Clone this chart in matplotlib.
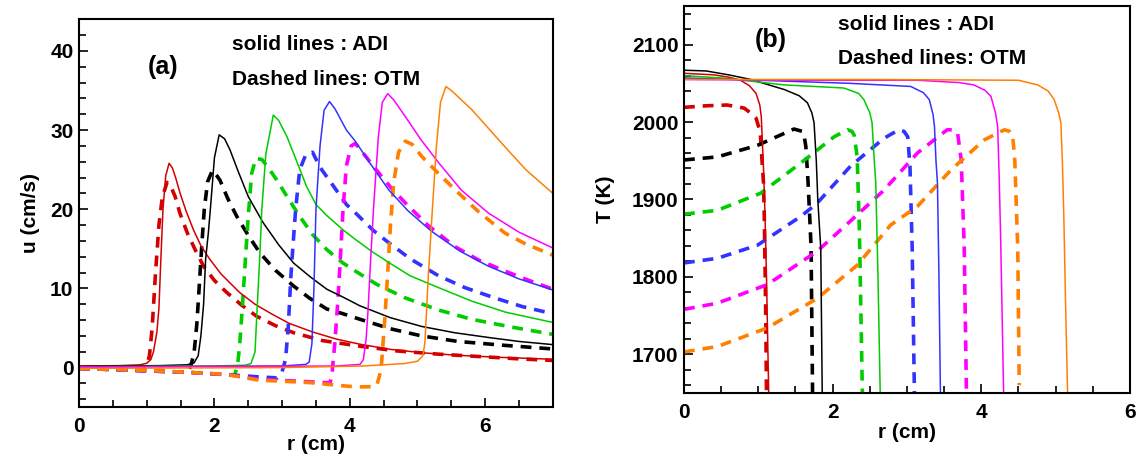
import matplotlib
matplotlib.use('Agg')
import matplotlib.pyplot as plt
from matplotlib.ticker import MultipleLocator

plt.rcParams['font.family'] = ['Liberation Sans', 'DejaVu Sans']
plt.rcParams['font.weight'] = 'bold'

# colours of the six time levels
colors = ['#d40000', '#000000', '#00cc00', '#3333ff', '#ff00ff', '#ff8000']

# ---- panel (a): velocity u (cm/s) vs r (cm) ----
# ADI (solid)
ua_red_r = [0, 0.6, 0.9, 1.0, 1.06, 1.1, 1.15, 1.18, 1.21, 1.24, 1.28, 1.33, 1.38, 1.43, 1.49, 1.58, 1.69, 1.8, 1.93, 2.1, 2.37,
            2.6, 2.84, 3.1, 3.45, 3.8, 4.15, 4.6, 5.1, 5.6, 6.2, 7.0]
ua_red = [0.2, 0.25, 0.35, 0.55, 1.0, 2.0, 4.5, 7.5, 14.0, 20.0, 24.2, 25.8, 25.2, 23.9, 22.1, 19.8, 17.4, 15.4, 13.7, 11.8, 9.5,
          8.0, 6.8, 5.6, 4.5, 3.6, 2.95, 2.3, 1.85, 1.55, 1.3, 1.05]
ua_blk_r = [0, 1.2, 1.6, 1.7, 1.76, 1.8, 1.84, 1.87, 1.91, 1.94, 2.0, 2.07, 2.15, 2.23, 2.35, 2.5, 2.72, 2.95, 3.17, 3.41,
            3.66, 3.9, 4.15, 4.6, 5.06, 5.55, 6.05, 6.5, 7.0]
ua_blk = [0.15, 0.25, 0.35, 0.6, 1.5, 4.0, 8.0, 13.7, 17.0, 20.0, 26.5, 29.4, 28.9, 27.5, 24.8, 21.6, 18.3, 15.5, 13.2, 11.5,
          9.9, 8.9, 7.8, 6.3, 5.2, 4.4, 3.8, 3.3, 2.9]
ua_grn_r = [0, 2.0, 2.45, 2.54, 2.6, 2.63, 2.67, 2.7, 2.76, 2.87, 2.95, 3.07, 3.2, 3.36, 3.5, 3.66, 3.9, 4.08, 4.32, 4.57,
            4.89, 5.31, 5.8, 6.3, 7.0]
ua_grn = [0.1, 0.2, 0.3, 0.5, 2.0, 7.3, 14.0, 20.0, 27.0, 31.9, 31.2, 29.2, 26.4, 22.9, 20.6, 19.2, 17.4, 16.2, 14.7, 13.3,
          11.6, 10.1, 8.4, 7.0, 5.7]
ua_blu_r = [0, 3.0, 3.35, 3.4, 3.44, 3.47, 3.5, 3.56, 3.62, 3.7, 3.78, 3.95, 4.08, 4.3, 4.57, 4.86, 5.21, 5.63, 6.05, 6.5, 7.0]
ua_blu = [0.1, 0.2, 0.4, 0.7, 3.0, 10.0, 20.0, 28.0, 32.5, 33.6, 32.7, 30.0, 28.6, 25.8, 22.5, 19.8, 17.2, 14.7, 12.8, 11.2, 9.8]
ua_mag_r = [0, 3.8, 4.15, 4.2, 4.24, 4.27, 4.31, 4.35, 4.42, 4.48, 4.56, 4.65, 4.82, 5.05, 5.31, 5.65, 6.05, 6.5, 7.0]
ua_mag = [0.05, 0.2, 0.4, 1.0, 3.5, 7.3, 14.0, 20.0, 29.0, 33.5, 34.6, 33.8, 31.7, 28.8, 25.9, 22.4, 19.5, 17.1, 15.1]
ua_org_r = [0, 3.0, 4.2, 4.8, 5.0, 5.08, 5.11, 5.16, 5.22, 5.28, 5.34, 5.42, 5.5, 5.65, 5.8, 6.05, 6.29, 6.6, 7.0]
ua_org = [-0.1, 0.0, 0.2, 0.5, 0.8, 1.5, 3.2, 11.6, 20.0, 28.0, 33.5, 35.5, 35.0, 33.8, 32.6, 30.2, 27.9, 25.0, 22.0]

# OTM (dashed)
ud_red_r = [0, 0.6, 0.95, 1.0, 1.04, 1.08, 1.13, 1.18, 1.23, 1.3, 1.36, 1.42, 1.49, 1.6, 1.72, 1.84, 2.0, 2.18, 2.4, 2.62,
            2.9, 3.17, 3.6, 4.15, 4.7, 5.3, 5.9, 6.5, 7.0]
ud_red = [-0.05, -0.2, -0.2, 0.3, 1.5, 5.0, 12.0, 18.0, 21.5, 23.4, 22.8, 21.6, 19.5, 17.0, 14.8, 12.8, 11.0, 9.5, 7.9, 6.5,
          5.3, 4.4, 3.4, 2.7, 2.1, 1.7, 1.4, 1.1, 0.9]
ud_blk_r = [0, 1.0, 1.55, 1.62, 1.66, 1.7, 1.74, 1.77, 1.81, 1.85, 1.9, 1.97, 2.03, 2.08, 2.2, 2.33, 2.5, 2.67, 2.9, 3.17,
            3.4, 3.66, 3.9, 4.15, 4.6, 5.06, 5.6, 6.3, 7.0]
ud_blk = [-0.1, -0.35, -0.6, -0.5, 0.5, 1.9, 5.5, 9.5, 15.0, 20.0, 23.5, 24.9, 24.3, 23.7, 21.3, 19.1, 16.7, 14.5, 12.3, 10.3,
          8.8, 7.4, 6.8, 6.1, 4.9, 4.0, 3.3, 2.8, 2.35]
ud_grn_r = [0, 1.6, 2.2, 2.3, 2.34, 2.37, 2.41, 2.46, 2.5, 2.55, 2.61, 2.7, 2.8, 2.92, 3.08, 3.26, 3.45, 3.66, 3.9, 4.08,
            4.4, 4.82, 5.3, 5.8, 6.4, 7.0]
ud_grn = [-0.1, -0.6, -0.9, -0.9, 0.2, 2.5, 7.3, 14.0, 19.1, 24.5, 26.4, 26.3, 25.2, 23.7, 21.5, 19.1, 16.8, 14.9, 13.2, 12.2,
          10.5, 8.8, 7.3, 6.1, 5.1, 4.2]
ud_blu_r = [0, 1.6, 2.2, 2.7, 2.93, 3.0, 3.05, 3.09, 3.13, 3.17, 3.2, 3.26, 3.35, 3.45, 3.56, 3.76, 3.95, 4.1, 4.35, 4.57,
            4.9, 5.31, 5.7, 6.14, 6.55, 7.0]
ud_blu = [-0.1, -0.6, -0.9, -1.2, -1.3, -0.5, 1.0, 5.0, 11.6, 16.5, 20.0, 25.0, 26.9, 27.2, 25.3, 22.9, 20.6, 19.4, 17.3, 15.8,
          13.7, 11.6, 10.1, 8.8, 7.7, 6.8]
ud_mag_r = [0, 1.6, 2.2, 2.66, 3.2, 3.65, 3.71, 3.74, 3.78, 3.82, 3.86, 3.9, 3.95, 4.02, 4.08, 4.16, 4.37, 4.6, 4.82, 5.15,
            5.55, 5.9, 6.29, 6.65, 7.0]
ud_mag = [-0.1, -0.6, -0.9, -1.5, -1.7, -1.9, -1.9, -0.5, 3.2, 8.0, 13.7, 20.0, 25.5, 28.0, 28.3, 27.5, 25.2, 22.8, 20.8, 18.0,
          15.3, 13.6, 12.2, 11.0, 9.9]
ud_org_r = [0, 1.0, 1.6, 2.17, 2.66, 2.95, 3.41, 3.9, 4.1, 4.35, 4.4, 4.44, 4.47, 4.52, 4.56, 4.6, 4.65, 4.72, 4.82, 4.92,
            5.06, 5.3, 5.55, 5.9, 6.29, 6.6, 7.0]
ud_org = [-0.1, -0.35, -0.6, -0.85, -1.6, -1.7, -1.9, -2.3, -2.45, -2.4, -2.2, -1.0, 0.6, 6.5, 12.0, 17.9, 23.5, 27.2, 28.6,
          28.2, 26.7, 24.6, 22.5, 19.7, 17.0, 15.6, 14.2]

# ---- panel (b): temperature T (K) vs r (cm) ----
# ADI (solid)
ta_red_r = [0, 0.4, 0.6, 0.76, 0.88, 0.97, 1.02, 1.04, 1.07, 1.09, 1.11, 1.14]
ta_red = [2063, 2061, 2058, 2054, 2047, 2037, 2022, 2007, 1940, 1880, 1800, 1649]
ta_blk_r = [0, 0.3, 0.6, 0.9, 1.35, 1.55, 1.66, 1.72, 1.75, 1.78, 1.8, 1.84, 1.86]
ta_blk = [2067, 2066, 2061, 2055, 2042, 2034, 2025, 2012, 1999, 1950, 1900, 1837, 1649]
ta_grn_r = [0, 0.5, 1.35, 2.15, 2.35, 2.42, 2.5, 2.53, 2.56, 2.58, 2.61, 2.64]
ta_grn = [2060, 2057, 2048, 2044, 2037, 2029, 2012, 1999, 1950, 1921, 1800, 1649]
ta_blu_r = [0, 1.0, 2.24, 3.05, 3.22, 3.3, 3.35, 3.37, 3.39, 3.41, 3.43, 3.45]
ta_blu = [2057, 2054, 2050, 2046, 2038, 2029, 2010, 1994, 1950, 1921, 1800, 1649]
ta_mag_r = [0, 1.5, 3.14, 3.7, 3.9, 4.05, 4.13, 4.19, 4.22, 4.24, 4.26, 4.3]
ta_mag = [2055, 2054, 2054, 2051, 2048, 2041, 2033, 2012, 1994, 1930, 1850, 1649]
ta_org_r = [0, 2.5, 4.5, 4.76, 4.9, 4.98, 5.04, 5.07, 5.09, 5.11, 5.13, 5.16]
ta_org = [2055, 2055, 2054, 2048, 2040, 2029, 2012, 1999, 1950, 1878, 1780, 1649]

# OTM (dashed)
td_red_r = [0, 0.3, 0.58, 0.81, 0.92, 0.97, 1.01, 1.03, 1.05, 1.07, 1.08, 1.1, 1.11]
td_red = [2019, 2021, 2022, 2018, 2010, 2005, 1992, 1981, 1950, 1921, 1880, 1751, 1649]
td_blk_r = [0, 0.45, 0.99, 1.48, 1.59, 1.62, 1.64, 1.67, 1.7, 1.71, 1.73]
td_blk = [1951, 1955, 1970, 1991, 1988, 1980, 1968, 1921, 1860, 1837, 1649]
td_grn_r = [0, 0.45, 1.03, 1.57, 2.02, 2.2, 2.26, 2.29, 2.33, 2.36, 2.4]
td_grn = [1881, 1886, 1908, 1947, 1981, 1990, 1988, 1983, 1955, 1860, 1649]
td_blu_r = [0, 0.45, 0.99, 1.57, 1.79, 2.24, 2.69, 2.89, 2.96, 3.01, 3.04, 3.07, 3.1]
td_blu = [1818, 1824, 1841, 1878, 1895, 1943, 1979, 1990, 1988, 1981, 1943, 1837, 1649]
td_mag_r = [0, 0.45, 1.12, 1.79, 2.33, 2.69, 3.14, 3.54, 3.62, 3.68, 3.73, 3.77, 3.8]
td_mag = [1758, 1766, 1790, 1833, 1880, 1912, 1960, 1990, 1990, 1986, 1951, 1837, 1649]
td_org_r = [0, 0.45, 1.12, 1.79, 2.33, 2.78, 3.14, 3.59, 4.04, 4.31, 4.38, 4.42, 4.45, 4.49, 4.51]
td_org = [1703, 1710, 1734, 1772, 1815, 1867, 1891, 1938, 1977, 1990, 1988, 1984, 1951, 1837, 1660]

u_solid = [(ua_red_r, ua_red), (ua_blk_r, ua_blk), (ua_grn_r, ua_grn),
           (ua_blu_r, ua_blu), (ua_mag_r, ua_mag), (ua_org_r, ua_org)]
u_dash = [(ud_red_r, ud_red), (ud_blk_r, ud_blk), (ud_grn_r, ud_grn),
          (ud_blu_r, ud_blu), (ud_mag_r, ud_mag), (ud_org_r, ud_org)]
t_solid = [(ta_red_r, ta_red), (ta_blk_r, ta_blk), (ta_grn_r, ta_grn),
           (ta_blu_r, ta_blu), (ta_mag_r, ta_mag), (ta_org_r, ta_org)]
t_dash = [(td_red_r, td_red), (td_blk_r, td_blk), (td_grn_r, td_grn),
          (td_blu_r, td_blu), (td_mag_r, td_mag), (td_org_r, td_org)]

fig = plt.figure(figsize=(11.39, 4.58), dpi=100)
ax1 = fig.add_axes([0.0694, 0.111, 0.416, 0.847])
ax2 = fig.add_axes([0.6005, 0.142, 0.3916, 0.845])


def style_axis(ax):
    for s in ax.spines.values():
        s.set_linewidth(1.5)
    ax.tick_params(which='both', direction='in', top=False, right=False,
                   width=1.2, labelsize=15)
    ax.tick_params(which='major', length=6.5)
    ax.tick_params(which='minor', length=5)
    ax.tick_params(axis='x', pad=7)
    ax.tick_params(axis='y', pad=4)
    for lab in ax.get_xticklabels() + ax.get_yticklabels():
        lab.set_fontweight('bold')


for c, (r, v) in zip(colors, u_dash):
    ax1.plot(r, v, color=c, lw=2.6, dashes=(3, 2.2))
for c, (r, v) in zip(colors, u_solid):
    ax1.plot(r, v, color=c, lw=1.1)

ax1.set_xlim(0, 7)
ax1.set_ylim(-5, 44)
ax1.xaxis.set_major_locator(MultipleLocator(2))
ax1.xaxis.set_minor_locator(MultipleLocator(0.5))
ax1.yaxis.set_major_locator(MultipleLocator(10))
ax1.yaxis.set_minor_locator(MultipleLocator(2))
style_axis(ax1)
ax1.set_xlabel('r (cm)', fontsize=15, fontweight='bold')
ax1.set_ylabel('u (cm/s)', fontsize=15, fontweight='bold')
ax1.xaxis.set_label_coords(0.5, -0.072)
ax1.yaxis.set_label_coords(-0.082, 0.5)
ax1.text(1.24, 38, '(a)', fontsize=18, fontweight='bold', ha='center', va='center')
ax1.text(2.26, 40.8, 'solid lines : ADI', fontsize=15, fontweight='bold', va='center')
ax1.text(2.26, 36.4, 'Dashed lines: OTM', fontsize=15, fontweight='bold', va='center')

for c, (r, v) in zip(colors, t_dash):
    ax2.plot(r, v, color=c, lw=2.6, dashes=(3, 2.2))
for c, (r, v) in zip(colors, t_solid):
    ax2.plot(r, v, color=c, lw=1.1)

ax2.set_xlim(0, 6)
ax2.set_ylim(1650, 2150)
ax2.xaxis.set_major_locator(MultipleLocator(2))
ax2.xaxis.set_minor_locator(MultipleLocator(0.5))
ax2.yaxis.set_major_locator(MultipleLocator(100))
ax2.yaxis.set_minor_locator(MultipleLocator(20))
style_axis(ax2)
ax2.set_xlabel('r (cm)', fontsize=15, fontweight='bold')
ax2.set_ylabel('T (K)', fontsize=15, fontweight='bold')
ax2.xaxis.set_label_coords(0.5, -0.078)
ax2.yaxis.set_label_coords(-0.155, 0.5)
ax2.text(1.17, 2106, '(b)', fontsize=18, fontweight='bold', ha='center', va='center')
ax2.text(2.07, 2126, 'solid lines : ADI', fontsize=15, fontweight='bold', va='center')
ax2.text(2.07, 2082, 'Dashed lines: OTM', fontsize=15, fontweight='bold', va='center')

fig.savefig('out.png', dpi=100)
